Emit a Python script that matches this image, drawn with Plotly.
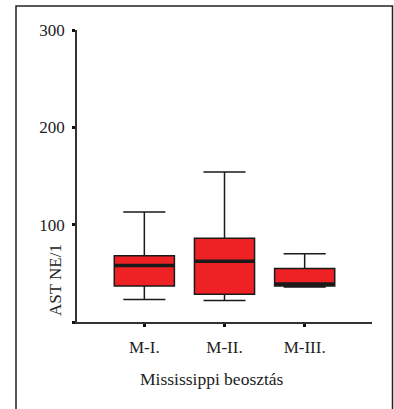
import plotly.graph_objects as go

categories = ["M-I.", "M-II.", "M-III."]
lower_whisker = [23, 22, 36]
q1_values = [37, 28.5, 37]
medians = [58, 62.5, 39]
q3_values = [68, 86, 55]
upper_whisker = [113, 154, 70]

y_tick_values = [0, 100, 200, 300]
y_tick_labels = ["", "100", "200", "300"]

positions = list(range(len(categories)))
FONT = "Liberation Serif"
INK = "#1a1a1a"
RED = "#ee2224"
BOX_W = 0.75

W, H = 394, 409
ML, MR, MT, MB = 77, 22, 30, 87
pw, ph = W - ML - MR, H - MT - MB

def px_x(p):
    return (p - ML) / pw

def px_y(p):
    return (H - MB - p) / ph

fig = go.Figure()
fig.add_trace(go.Box(
    x=positions,
    q1=q1_values, median=medians, q3=q3_values,
    lowerfence=lower_whisker, upperfence=upper_whisker,
    fillcolor=RED,
    line=dict(color=INK, width=1.5),
    width=BOX_W,
    whiskerwidth=0.7,
    boxpoints=False,
    showlegend=False,
    hoverinfo="skip",
))

# thicker median lines
mx, my = [], []
for p, m in zip(positions, medians):
    mx += [p - BOX_W / 2, p + BOX_W / 2, None]
    my += [m, m, None]
fig.add_trace(go.Scatter(x=mx, y=my, mode="lines",
                         line=dict(color=INK, width=3.5),
                         showlegend=False, hoverinfo="skip"))

fig.update_layout(
    width=W, height=H,
    margin=dict(l=ML, r=MR, t=MT, b=MB),
    paper_bgcolor="white", plot_bgcolor="white",
    font=dict(family=FONT, color="#222222", size=16),
    xaxis=dict(
        range=[-0.84, 2.84],
        tickvals=positions, ticktext=categories,
        showgrid=False, zeroline=False,
        showline=True, linecolor="#333333", linewidth=1.5,
        ticks="outside", ticklen=3, tickwidth=2.5, tickcolor="#111111",
        ticklabelstandoff=6,
        tickfont=dict(family=FONT, size=17, color="#222222"),
    ),
    yaxis=dict(
        range=[0, 300],
        tickvals=y_tick_values, ticktext=y_tick_labels,
        showgrid=False, zeroline=False,
        showline=True, linecolor="#333333", linewidth=1.5,
        ticks="outside", ticklen=3, tickwidth=2.5, tickcolor="#111111",
        ticklabelstandoff=4,
        tickfont=dict(family=FONT, size=17, color="#222222"),
    ),
    shapes=[dict(type="rect", xref="paper", yref="paper",
                 x0=px_x(16), x1=px_x(392.5), y0=px_y(6), y1=px_y(430),
                 line=dict(color="#222222", width=1.5), layer="below")],
    annotations=[
        dict(text="AST NE/1", xref="paper", yref="paper",
             x=px_x(55), y=px_y(280), textangle=-90,
             showarrow=False, xanchor="center", yanchor="middle",
             font=dict(family=FONT, size=17, color="#222222")),
        dict(text="Mississippi beosztás", xref="paper", yref="paper",
             x=px_x(212), y=px_y(379), showarrow=False,
             xanchor="center", yanchor="middle",
             font=dict(family=FONT, size=17.5, color="#222222")),
    ],
)

fig.write_html("out.html",
               config={"displayModeBar": False},
               post_script="document.body.style.margin='0';document.body.style.overflow='hidden';")
